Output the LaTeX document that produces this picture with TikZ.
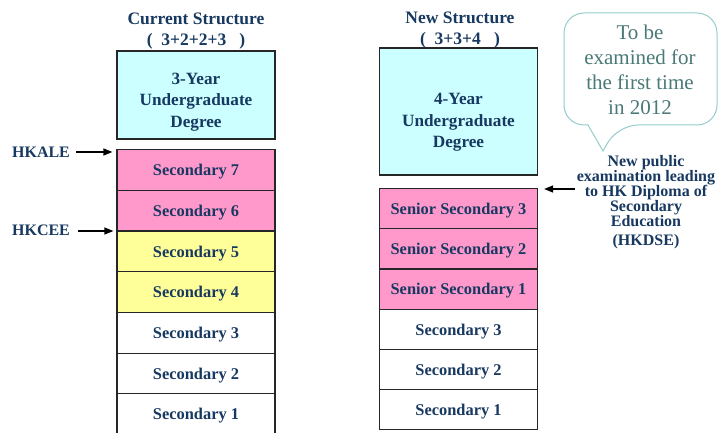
\documentclass[tikz,border=0pt]{standalone}
\usepackage{fontspec}
\setmainfont{Liberation Serif}
\usepackage{tikz}
\usetikzlibrary{arrows.meta}
\usetikzlibrary{positioning}

\definecolor{hkblue}{RGB}{23,56,96}
\definecolor{hkcyan}{RGB}{204,255,255}
\definecolor{hkpink}{RGB}{255,153,204}
\definecolor{hkyellow}{RGB}{255,255,153}
\definecolor{hkteal}{RGB}{74,122,120}
\definecolor{hkedge}{RGB}{150,204,204}

\begin{document}
\begin{tikzpicture}[x=1pt, y=-1pt,
    titletext/.style={font=\bfseries\fontsize{17.5}{21.5}\selectfont, text=hkblue, align=center, inner sep=0},
    degbox/.style={draw=black!85, line width=1.2pt, fill=hkcyan, minimum width=158},
    degtext/.style={font=\bfseries\fontsize{17.2}{21.7}\selectfont, text=hkblue, align=center, inner sep=0},
    secbox/.style={draw=black!85, line width=1.2pt, minimum width=158, inner sep=0,
        text height=11.5, text depth=0, font=\bfseries\fontsize{16.4}{18}\selectfont, text=hkblue},
    examtext/.style={font=\bfseries\fontsize{16}{18}\selectfont, text=hkblue, inner sep=0},
    arr/.style={-{Triangle[length=9pt,width=7pt]}, line width=1.2pt}]

    \useasboundingbox (0,0) rectangle (718,433);

    % Current structure
    \node[titletext] (curtitle) at (196,31) {Current Structure\\(\ \ 3+2+2+3\ \ \ )};
    \node[degbox, minimum height=88] (curdeg) at (196,95) {};
    \node[degtext] (curdegtext) at ([yshift=-7pt]curdeg.center) {3-Year\\Undergraduate\\Degree};
    \foreach \t/\c [count=\i] in {Secondary 7/hkpink, Secondary 6/hkpink, Secondary 5/hkyellow,
        Secondary 4/hkyellow, Secondary 3/white, Secondary 2/white, Secondary 1/white} {
        \node[secbox, fill=\c, minimum height=40.7, anchor=north] (cur\i) at (196,{149+(\i-1)*40.7}) {\t};
    }

    % Public exams (current)
    \node[examtext] (hkale) at (41,152) {HKALE};
    \node[examtext] (hkcee) at (41,230) {HKCEE};
    \draw[arr, shorten <=6pt, shorten >=4pt] (hkale.east) -- (hkale.east -| cur1.west);
    \draw[arr, shorten <=8pt, shorten >=3pt] ([yshift=-1pt]hkcee.east) -- ([yshift=-1pt]hkcee.east -| cur3.west);

    % New structure
    \node[titletext] (newtitle) at (460,30) {New Structure\\(\ \ 3+3+4\ \ \ )};
    \node[degbox, minimum height=127] (newdeg) at (458.5,111.5) {};
    \node[degtext] (newdegtext) at ([yshift=-11pt]newdeg.center) {4-Year\\Undergraduate\\Degree};
    \foreach \t/\c [count=\i] in {Senior Secondary 3/hkpink, Senior Secondary 2/hkpink, Senior Secondary 1/hkpink,
        Secondary 3/white, Secondary 2/white, Secondary 1/white} {
        \node[secbox, fill=\c, minimum height=40.2, anchor=north] (new\i) at (458.5,{188+(\i-1)*40.2}) {\t};
    }

    % Callout
    \draw[hkedge, line width=1pt, fill=white] (564,70) [rounded corners=20] -- (564,13) -- (717,13) -- (717,125)
        -- (618,125) [sharp corners] -- (603,151) -- (588,125) [rounded corners=20] -- (564,125) -- cycle;
    \node[font=\fontsize{21}{24.8}\selectfont, text=hkteal, align=center, inner sep=0] (callout) at (640,70)
        {To be\\examined for\\the first time\\in 2012};

    % HKDSE
    \node[examtext, font={\bfseries\fontsize{16}{15}\selectfont\lineskiplimit=-8pt\relax}, align=center, anchor=north]
        (hkdse) at (646,155)
        {New public\\examination leading\\to HK Diploma of\\Secondary\\Education\\[4pt](HKDSE)};
    \coordinate (dsearr) at (575,189);
    \draw[arr] (dsearr) -- ([xshift=6pt]dsearr -| new1.east);
\end{tikzpicture}
\end{document}
